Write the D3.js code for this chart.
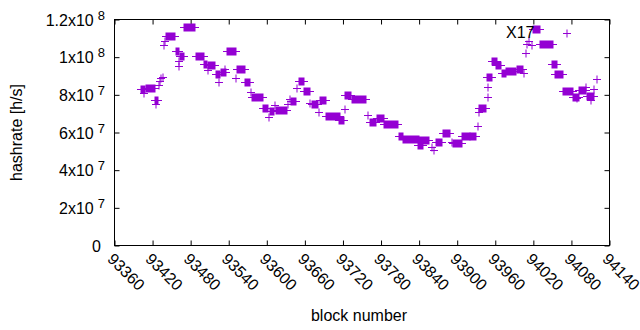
<!DOCTYPE html>
<html><head><meta charset="utf-8">
<script src="https://cdn.jsdelivr.net/npm/d3@7"></script>
<style>
body{margin:0;background:#fff;}
text{font-family:"Liberation Sans",Arial,sans-serif;fill:#000;}
</style>
</head><body>
<svg id="chart" width="640" height="330"></svg>
<script>
// Runs of consecutive blocks sharing the same hashrate estimate (one "+" per block)
const runStart = [93402,93410,93406,93424,93425,93430,93432,93434,93436,93438,93440,93441,93457,93463,93462,93462,93470,93488,93501,93507,93507,93520,93528,93525,93534,93537,93553,93551,93566,93575,93577,93594,93603,93605,93613,93614,93633,93637,93638,93648,93651,93659,93668,93671,93682,93684,93693,93714,93723,93723,93734,93759,93763,93774,93785,93808,93815,93840,93838,93860,93863,93867,93878,93892,93893,93908,93920,93933,93934,93934,93949,93949,93947,93955,93961,93971,93977,93994,94005,94008,94010,94013,94018,94020,94030,94073,94049,94054,94067,94082,94089,94092,94103,94105,94111,94116,94120];
const runEnd   = [93408,93424,93406,93429,93425,93430,93432,93434,93436,93438,93440,93455,93462,93470,93462,93462,93487,93501,93506,93518,93507,93526,93536,93525,93534,93551,93566,93551,93573,93575,93594,93602,93603,93611,93613,93632,93633,93637,93646,93648,93659,93668,93668,93681,93682,93693,93715,93722,93723,93733,93756,93759,93772,93785,93807,93815,93840,93856,93846,93860,93863,93876,93889,93892,93908,93920,93930,93933,93934,93945,93949,93949,93955,93963,93969,93977,93993,94004,94005,94008,94010,94013,94018,94030,94051,94073,94057,94067,94082,94092,94089,94103,94103,94116,94111,94116,94120];
const runHashrate = [83.1e6,83.6e6,81.0e6,77.0e6,75.1e6,85.2e6,87.3e6,88.7e6,89.7e6,106.5e6,108.6e6,111.2e6,103.3e6,100.4e6,98.0e6,95.3e6,116.0e6,100.6e6,96.4e6,95.8e6,93.2e6,91.1e6,91.9e6,86.8e6,93.7e6,103.3e6,93.7e6,88.9e6,86.8e6,81.5e6,78.8e6,73.0e6,68.2e6,71.4e6,74.6e6,72.2e6,75.1e6,77.8e6,76.5e6,83.6e6,87.3e6,81.8e6,75.7e6,75.1e6,70.9e6,77.3e6,68.5e6,66.9e6,72.5e6,79.9e6,77.6e6,69.3e6,65.8e6,67.7e6,64.5e6,58.1e6,56.4e6,56.0e6,53.4e6,52.3e6,50.7e6,55.2e6,60.0e6,55.0e6,54.4e6,57.9e6,58.1e6,63.5e6,70.9e6,73.0e6,78.8e6,84.2e6,89.6e6,98.1e6,95.8e6,91.4e6,92.8e6,93.7e6,91.6e6,102.2e6,107.0e6,108.6e6,106.5e6,114.8e6,107.0e6,113.0e6,96.5e6,91.1e6,82.0e6,79.0e6,78.3e6,82.7e6,84.3e6,79.4e6,77.3e6,83.1e6,88.4e6];

const xTickValues = [93360,93420,93480,93540,93600,93660,93720,93780,93840,93900,93960,94020,94080,94140];
const yTickValues = [0,2e7,4e7,6e7,8e7,1e8,1.2e8];
const yTickMantissa = ["0","2","4","6","8","1","1.2"];
const yTickExponent = ["","7","7","7","7","8","8"];
const labelText = ["X17"];
const labelBlock = [93977];
const labelValue = [1.13e8];

const W = 640, H = 330;
const plot = {left:114.5, right:609.5, top:19.5, bottom:245.5};
const color = "#9400D3";
const fs = 16;
const svg = d3.select("#chart");
svg.append("rect").attr("width",W).attr("height",H).attr("fill","#fff");

const x = d3.scaleLinear().domain([93360,94140]).range([plot.left, plot.right]);
const y = d3.scaleLinear().domain([0,1.2e8]).range([plot.bottom, plot.top]);

// axes (gnuplot style: inward ticks mirrored)
const tl = 5;
const gx = svg.append("g").attr("transform",`translate(0,${plot.bottom})`)
  .call(d3.axisBottom(x).tickValues(xTickValues).tickSizeInner(-tl).tickSizeOuter(0).tickFormat(""));
const gxt = svg.append("g").attr("transform",`translate(0,${plot.top})`)
  .call(d3.axisTop(x).tickValues(xTickValues).tickSizeInner(-tl).tickSizeOuter(0).tickFormat(""));
const gy = svg.append("g").attr("transform",`translate(${plot.left},0)`)
  .call(d3.axisLeft(y).tickValues(yTickValues).tickSizeInner(-tl).tickSizeOuter(0).tickFormat(""));
const gyr = svg.append("g").attr("transform",`translate(${plot.right},0)`)
  .call(d3.axisRight(y).tickValues(yTickValues).tickSizeInner(-tl).tickSizeOuter(0).tickFormat(""));
[gx,gxt,gy,gyr].forEach(g=>{g.select(".domain").remove(); g.selectAll("line").attr("stroke","#000").attr("stroke-width",1);});

svg.append("rect").attr("x",plot.left).attr("y",plot.top)
  .attr("width",plot.right-plot.left).attr("height",plot.bottom-plot.top)
  .attr("fill","none").attr("stroke","#000").attr("stroke-width",1);

// y tick labels
yTickValues.forEach((v,i)=>{
  const t = svg.append("text").attr("x",105).attr("y",y(v)+6).attr("text-anchor","end").attr("font-size",fs);
  if (yTickExponent[i]==="") { t.attr("x",101).text(yTickMantissa[i]); }
  else {
    t.append("tspan").text(yTickMantissa[i]+"x10");
    t.append("tspan").attr("dx",4).attr("dy",-6).attr("font-size",13).text(yTickExponent[i]);
  }
});
// x tick labels, rotated
xTickValues.forEach(v=>{
  svg.append("text").attr("transform",`translate(${x(v)-8},${260}) rotate(45)`)
    .attr("font-size",fs).attr("text-anchor","start").text(v);
});

// axis titles
svg.append("text").attr("transform",`translate(22,${(plot.top+plot.bottom)/2}) rotate(-90)`)
  .attr("text-anchor","middle").attr("font-size",fs).text("hashrate [h/s]");
svg.append("text").attr("x",(plot.left+plot.right)/2 - 3).attr("y",321)
  .attr("text-anchor","middle").attr("font-size",fs).text("block number");

// data: each run is a sweep of "+" markers, one per block
const hs = 3.5;
const runs = runStart.map((s,i)=>({s, e:runEnd[i], v:runHashrate[i]}));
const g = svg.append("g");
runs.forEach(r=>{
  const xs = Math.round(x(r.s)), xe = Math.round(x(r.e)), yy = Math.round(y(r.v));
  g.append("rect").attr("x",xs-0.5).attr("y",yy-hs).attr("width",xe-xs+1).attr("height",2*hs+1)
    .attr("fill",color);
  g.append("line").attr("x1",xs-hs-0.5).attr("x2",xe+hs+0.5).attr("y1",yy+0.5).attr("y2",yy+0.5)
    .attr("stroke",color).attr("stroke-width",1);
});

// label
labelText.forEach((t,i)=>{
  svg.append("text").attr("x",x(labelBlock[i])).attr("y",y(labelValue[i])+5)
    .attr("font-size",fs).text(t);
});
</script>
</body></html>
